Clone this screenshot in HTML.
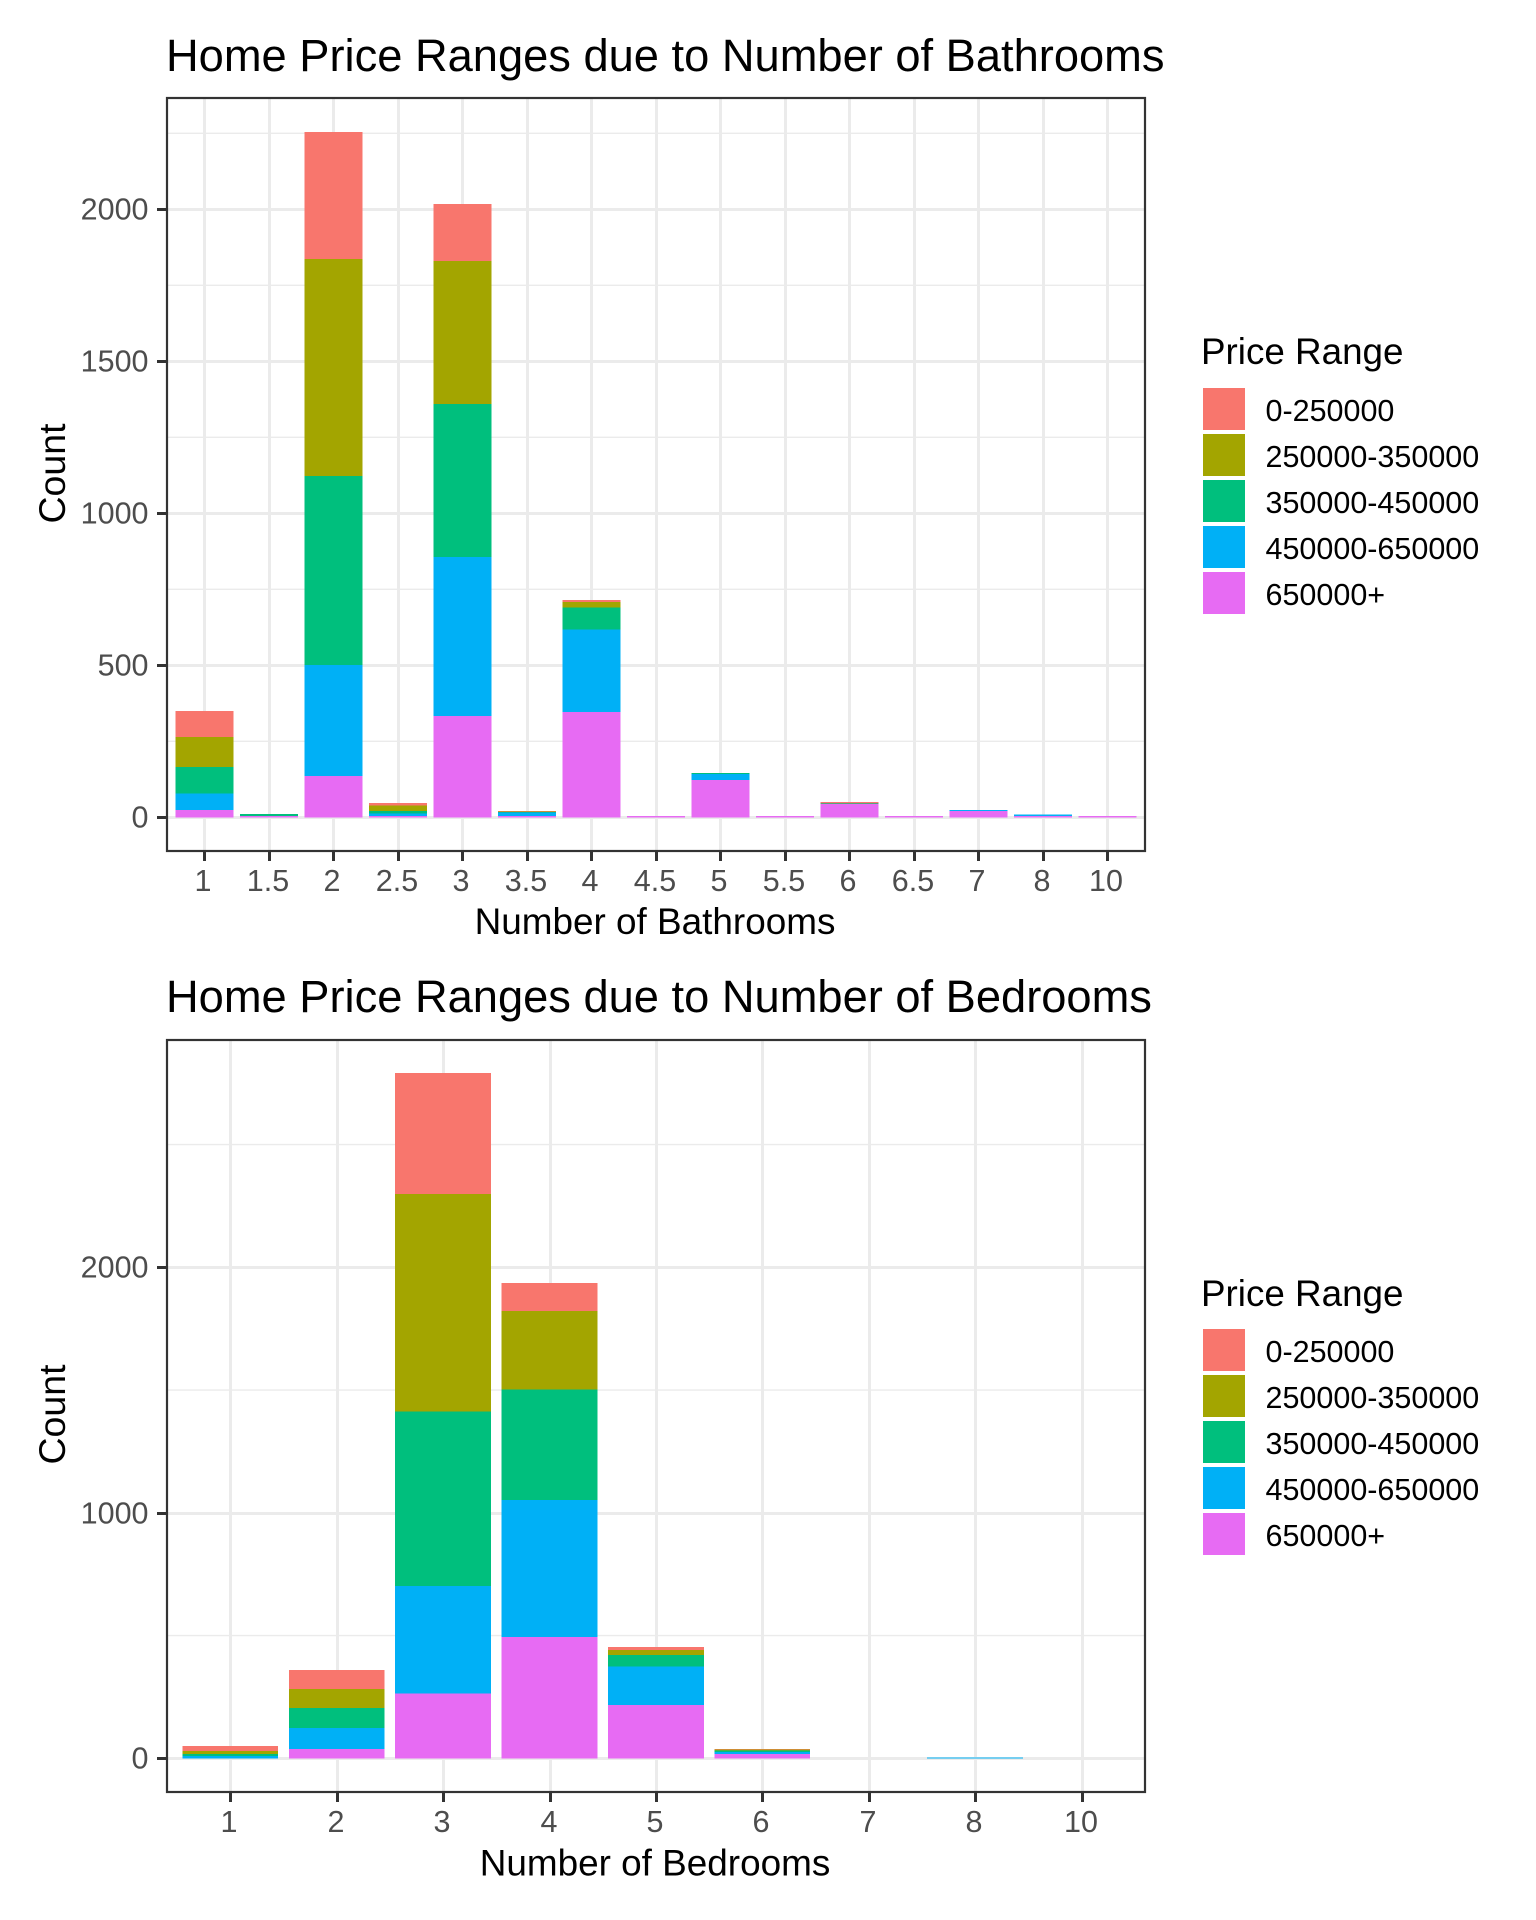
<!DOCTYPE html>
<html lang="en">
<head>
<meta charset="utf-8">
<title>Home Price Ranges</title>
<style>
html,body{margin:0;padding:0;background:#fff;}
svg{display:block;font-family:"Liberation Sans",Arial,sans-serif;}
</style>
</head>
<body>
<svg id="figure" xmlns="http://www.w3.org/2000/svg" width="1536" height="1920" viewBox="0 0 1536 1920">
  <rect x="0" y="0" width="1536" height="1920" fill="#ffffff"/>
  <g id="chart-bath"></g>
  <g id="chart-bed"></g>
  <text x="166" y="71" font-size="45.26" fill="#000">Home Price Ranges due to Number of Bathrooms</text>
  <text x="655" y="934" font-size="36.9" text-anchor="middle" fill="#000">Number of Bathrooms</text>
  <text transform="translate(65,473.5) rotate(-90)" font-size="37.5" text-anchor="middle" fill="#000">Count</text>
  <text x="166" y="1012" font-size="45.26" fill="#000">Home Price Ranges due to Number of Bedrooms</text>
  <text x="655" y="1875.7" font-size="36.9" text-anchor="middle" fill="#000">Number of Bedrooms</text>
  <text transform="translate(65,1414.5) rotate(-90)" font-size="37.5" text-anchor="middle" fill="#000">Count</text>
</svg>
<script>
const legendLabels = ['0-250000','250000-350000','350000-450000','450000-650000','650000+'];

const bathCategories = ['1','1.5','2','2.5','3','3.5','4','4.5','5','5.5','6','6.5','7','8','10'];
const bathRed   = [86, 0, 418,  9, 187,  2,   6, 0,   0, 0,  3, 0,  0, 0, 0];
const bathOlive = [99, 0, 714, 17, 471,  1,  19, 0,   1, 0,  1, 0,  0, 0, 0];
const bathGreen = [87, 6, 621,  8, 503,  3,  73, 0,   3, 0,  1, 0,  0, 0, 0];
const bathBlue  = [54, 0, 365,  8, 523, 10, 271, 0,  20, 0,  2, 0,  4, 4, 0];
const bathPink  = [24, 5, 136,  5, 333,  5, 346, 4, 122, 4, 43, 4, 20, 5, 4];
const bathMajorTicks = [0,500,1000,1500,2000];
const bathMinorTicks = [250,750,1250,1750,2250];

const bedCategories = ['1','2','3','4','5','6','7','8','10'];
const bedRed   = [20, 78, 493, 114,  13,  3, 0, 0, 0];
const bedOlive = [12, 77, 886, 320,  20,  4, 0, 0, 0];
const bedGreen = [ 9, 82, 710, 449,  48,  5, 0, 0, 0];
const bedBlue  = [ 9, 85, 439, 559, 156,  8, 0, 4, 0];
const bedPink  = [ 0, 38, 263, 494, 217, 18, 0, 0, 0];
const bedMajorTicks = [0,1000,2000];
const bedMinorTicks = [500,1500,2500];

const SVGNS = 'http://www.w3.org/2000/svg';
const FILLS = ['#F8766D','#A3A500','#00BF7D','#00B0F6','#E76BF3'];

function mk(parent, tag, attrs) {
  const el = document.createElementNS(SVGNS, tag);
  for (const k in attrs) el.setAttribute(k, attrs[k]);
  parent.appendChild(el);
  return el;
}

function drawChart(root, geo, categories, seriesTopDown, majorTicks, minorTicks) {
  const xScale = i => geo.x0 + geo.step * i;
  const yScale = v => geo.y0 - v * geo.k;
  const crisp = 'crispEdges';

  const panel = mk(root, 'rect', {x: geo.left, y: geo.top, width: geo.right - geo.left, height: geo.bottom - geo.top, fill: '#fff'});
  
  

  minorTicks.forEach(v => {
    const y = yScale(v);
    const line = mk(root, 'rect', {x: geo.left, y: y - 0.7, width: geo.right - geo.left, height: 1.4, fill: '#ebebeb'});
    
    
  });
  majorTicks.forEach(v => {
    const y = Math.round(yScale(v));
    const line = mk(root, 'rect', {x: geo.left, y: y - 1, width: geo.right - geo.left, height: 3, fill: '#ebebeb', 'shape-rendering': crisp});
    
    
  });
  categories.forEach((c, i) => {
    const x = Math.round(xScale(i));
    const line = mk(root, 'rect', {x: x - 1, y: geo.top, width: 3, height: geo.bottom - geo.top, fill: '#ebebeb', 'shape-rendering': crisp});
    
    
  });

  categories.forEach((c, i) => {
    let cum = 0;
    for (let s = seriesTopDown.length - 1; s >= 0; s--) {
      const v = seriesTopDown[s][i];
      if (!v) continue;
      const yTop = yScale(cum + v);
      const yBot = yScale(cum);
      cum += v;
      const bar = mk(root, 'rect', {
        x: xScale(i) - geo.step * 0.45,
        y: yTop,
        width: geo.step * 0.9,
        height: yBot - yTop,
        fill: FILLS[s],
        'shape-rendering': crisp
      });
      
      
    }
  });

  const border = mk(root, 'rect', {x: geo.left, y: geo.top, width: geo.right - geo.left, height: geo.bottom - geo.top, fill: 'none', stroke: '#333333', 'stroke-width': 2.2});
  
  

  majorTicks.forEach(v => {
    const y = Math.round(yScale(v));
    const tick = mk(root, 'rect', {x: geo.left - 10, y: y - 1, width: 10, height: 3, fill: '#333333', 'shape-rendering': crisp});
    
    
    const label = mk(root, 'text', {x: geo.left - 18.5, y: y + 10.5, 'font-size': 30.5, 'text-anchor': 'end', fill: '#4D4D4D'});
    label.textContent = String(v);
    
    
  });
  categories.forEach((c, i) => {
    const x = Math.round(xScale(i));
    const tick = mk(root, 'rect', {x: x - 1, y: geo.bottom, width: 3, height: 10, fill: '#333333', 'shape-rendering': crisp});
    
    
    const label = mk(root, 'text', {x: x - 1, y: geo.bottom + 40, 'font-size': 30.5, 'text-anchor': 'middle', fill: '#4D4D4D'});
    label.textContent = c;
    
    
  });

  const legend = mk(root, 'g', {});
  
  
  const legendTitle = mk(legend, 'text', {x: 1201, y: geo.legendTitleY, 'font-size': 36.8, fill: '#000'});
  legendTitle.textContent = 'Price Range';
  
  
  legendLabels.forEach((t, i) => {
    const top = geo.legendY + 88 + 46 * i;
    const key = mk(legend, 'rect', {x: 1203, y: top, width: 42, height: 42, fill: FILLS[i], 'shape-rendering': crisp});
    
    
    const label = mk(legend, 'text', {x: 1265.5, y: top + 33, 'font-size': 30.5, fill: '#000'});
    label.textContent = t;
    
    
  });
}

drawChart(document.getElementById('chart-bath'),
  {left:167, right:1145, top:98, bottom:851, x0:204.3, step:64.5, y0:817.3, k:0.304, legendY:300, legendTitleY:364},
  bathCategories, [bathRed,bathOlive,bathGreen,bathBlue,bathPink], bathMajorTicks, bathMinorTicks);

drawChart(document.getElementById('chart-bed'),
  {left:167, right:1145, top:1040, bottom:1792, x0:230.3, step:106.4, y0:1758.3, k:0.2455, legendY:1241, legendTitleY:1306},
  bedCategories, [bedRed,bedOlive,bedGreen,bedBlue,bedPink], bedMajorTicks, bedMinorTicks);
</script>
</body>
</html>
